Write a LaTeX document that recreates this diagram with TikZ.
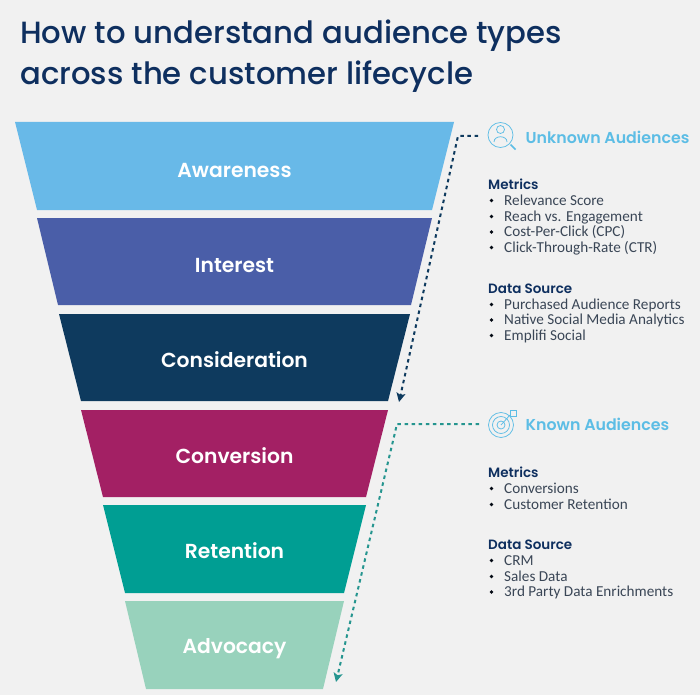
\documentclass[tikz,border=0pt]{standalone}
\usepackage{fontspec}
\usetikzlibrary{arrows.meta}
\setmainfont{Carlito}
\newfontfamily\popm{Poppins Medium}
\newfontfamily\pops{Poppins SemiBold}
\definecolor{bgc}{HTML}{F1F1F1}
\definecolor{navy}{HTML}{0E2F5F}
\definecolor{sky}{HTML}{5CBDE5}
\definecolor{bodytx}{HTML}{3A4656}
\definecolor{cawa}{HTML}{68B9E8}
\definecolor{cint}{HTML}{4A5EA8}
\definecolor{ccon}{HTML}{0E3A5E}
\definecolor{ccvn}{HTML}{A32064}
\definecolor{cret}{HTML}{009E93}
\definecolor{cadv}{HTML}{98D2BC}
\definecolor{cdk}{HTML}{0E3A5E}
\definecolor{ctl}{HTML}{25958F}
\tikzset{
  x=1pt,y=-1pt,
  stage/.style={anchor=base,font=\pops\fontsize{20.3}{24}\selectfont,text=white,inner sep=0pt},
  titletx/.style={anchor=base west,inner sep=0pt,font=\popm\fontsize{30.7}{36}\selectfont,text=navy},
  audience/.style={anchor=base west,inner sep=0pt,font=\pops\fontsize{15.8}{18}\selectfont,text=sky},
  headtx/.style={anchor=base west,inner sep=0pt,font=\pops\fontsize{13.5}{16}\selectfont,text=navy},
  itemtx/.style={anchor=base west,inner sep=0pt,font=\fontsize{15.2}{16}\selectfont,text=bodytx},
  dotb/.style={anchor=center,inner sep=0pt,circle,fill=black!80!navy,minimum size=3.6pt},
  iconl/.style={draw=sky,line width=0.75pt},
  link/.style={line width=2pt,dash pattern=on 3.5pt off 3.6pt,-{Stealth[length=9pt,width=9pt,inset=2pt]}},
}
\begin{document}
\begin{tikzpicture}
\useasboundingbox (0,0) rectangle (700,695);
\fill[bgc] (0,0) rectangle (700,695);
\node[titletx] (t1) at (20,43.500) {How to understand audience types};
\node[titletx] (t2) at (20,84.500) {across the customer lifecycle};

\fill[cawa] (15,122) -- (454,122) -- (432,210) -- (37,210) -- cycle;
\fill[cint] (37,218) -- (432,218) -- (411,305) -- (58,305) -- cycle;
\fill[ccon] (59,314) -- (410,314) -- (388,401) -- (81,401) -- cycle;
\fill[ccvn] (81,410) -- (388,410) -- (366,497) -- (103,497) -- cycle;
\fill[cret] (103,505) -- (366,505) -- (344,593) -- (125,593) -- cycle;
\fill[cadv] (125,601) -- (344,601) -- (323,689) -- (146,689) -- cycle;
\node[stage] (s1) at (234.500,177) {Awareness};
\node[stage] (s2) at (234.500,272) {Interest};
\node[stage] (s3) at (234.500,367.500) {Consideration};
\node[stage] (s4) at (234.500,463) {Conversion};
\node[stage] (s5) at (234.500,558) {Retention};
\node[stage] (s6) at (234.500,653) {Advocacy};

% icons
\draw[iconl] (500.500,135) circle (12.500);
\draw[iconl] (500.500,129.500) circle (4);
\draw[iconl] (494,142) .. controls (494,135) and (507,135) .. (507,142);
\draw[iconl,line width=1.6pt] (510.500,144.500) -- (515.500,149.500);
\draw[iconl] (501,425) circle (12.500);
\draw[iconl] (501,425) circle (8.500);
\draw[iconl] (501,425) circle (4);
\draw[iconl] (501,425) -- (510,415);
\draw[iconl] (510.500,410) rectangle (516.500,416);

% text
\node[audience] (u) at (525.500,143) {Unknown Audiences};
\node[headtx] (m1) at (488,189) {Metrics};
\foreach \n/\y/\s in {a/205/Relevance Score,b/221/Reach vs. Engagement,c/236.500/Cost-Per-Click (CPC),d/252/Click-Through-Rate (CTR)}{
  \node[dotb] (dot\n) at (491.500,\y-4.500) {};
  \node[itemtx] (it\n) at (504,\y) {\s};
}
\node[headtx] (d1) at (488,293) {Data Source};
\foreach \n/\y/\s in {e/309/Purchased Audience Reports,f/324.500/Native Social Media Analytics,g/340/Emplifi Social}{
  \node[dotb] (dot\n) at (491.500,\y-4.500) {};
  \node[itemtx] (it\n) at (504,\y) {\s};
}
\node[audience] (k) at (525.500,430) {Known Audiences};
\node[headtx] (m2) at (488,477) {Metrics};
\foreach \n/\y/\s in {h/493/Conversions,i/509/Customer Retention}{
  \node[dotb] (dot\n) at (491.500,\y-4.500) {};
  \node[itemtx] (it\n) at (504,\y) {\s};
}
\node[headtx] (d2) at (488,549) {Data Source};
\foreach \n/\y/\s in {j/565/CRM,k/581/Sales Data,l/596.500/3rd Party Data Enrichments}{
  \node[dotb] (dot\n) at (491.500,\y-4.500) {};
  \node[itemtx] (it\n) at (504,\y) {\s};
}

% connectors
\coordinate (u0) at (478,136);
\coordinate (u1) at (458,136);
\coordinate (u2) at (399,402);
\coordinate (k0) at (479,424);
\coordinate (k1) at (397,424);
\coordinate (k2) at (336,682);
\draw[link,cdk] (u0) -- (u1) -- (u2);
\draw[link,ctl] (k0) -- (k1) -- (k2);
\end{tikzpicture}
\end{document}
